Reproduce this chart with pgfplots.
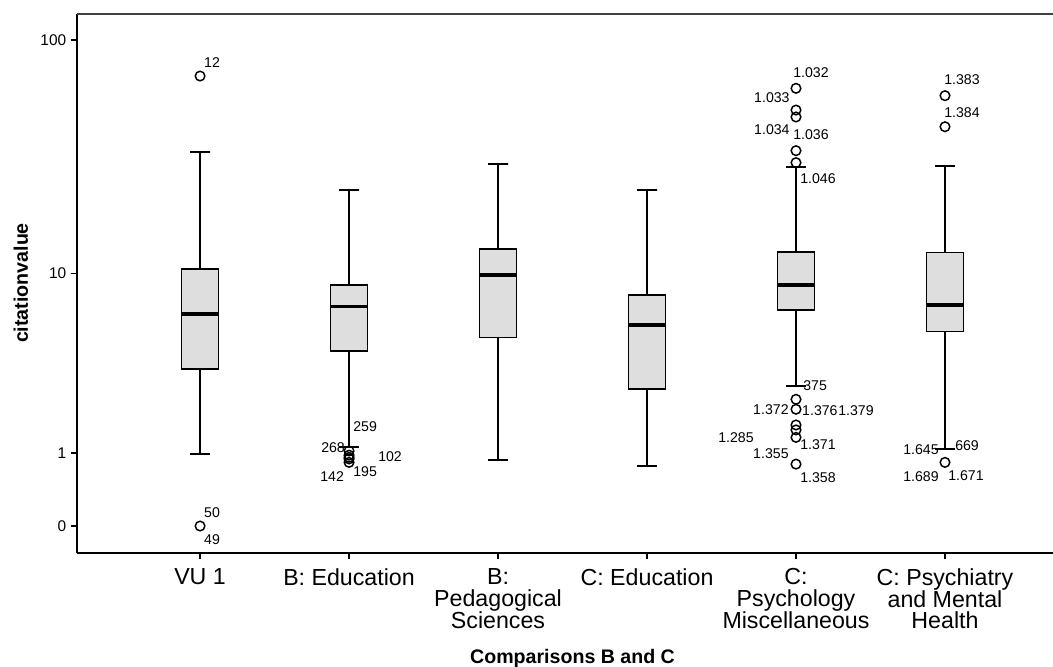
\documentclass[border=0pt]{standalone}
\usepackage{fontspec}
\setmainfont{Liberation Sans}
\usepackage{pgfplots}
\pgfplotsset{compat=1.18}
\begin{document}
\begin{tikzpicture}
\tikzset{
  boxst/.style={draw=black, fill=black!13, line width=1.2pt, line join=miter, mark=none},
  medst/.style={black, line width=2.4pt, mark=none},
  whst/.style={black, line width=1.5pt, mark=none},
  lab/.style={anchor=west, inner sep=0pt, font=\fontsize{10.6}{12}\selectfont}
}
\begin{axis}[
  name=ax,
  scale only axis,
  width=732pt, height=404.25pt,
  xmin=-0.826, xmax=5.725,
  y coord trafo/.code={\pgfmathparse{ln(#1+1)/ln(10)}},
  y coord inv trafo/.code={\pgfmathparse{exp(#1*ln(10))-1}},
  ymin=-0.226, ymax=128.2,
  axis x line*=bottom, axis y line*=left,
  x axis line style={line width=0.9pt, black},
  y axis line style={line width=1.2pt, black},
  tick align=outside,
  major tick length=4.5pt,
  tick style={black, line width=0.9pt},
  xtick={0,1,2,3,4,5},
  xticklabels={VU 1, B: Education, {B:\\Pedagogical\\Sciences}, C: Education, {C:\\Psychology\\Miscellaneous}, {C: Psychiatry\\and Mental\\Health}},
  xticklabel style={align=center, yshift=-3.5pt, font=\fontsize{17.4}{16.4}\selectfont},
  ytick={0,1,10,100},
  yticklabels={0,1,10,100},
  yticklabel style={font=\fontsize{11.6}{12}\selectfont},
  xlabel={Comparisons B and C},
  xlabel style={at={(axis description cs:0.5077,-0.1954)}, anchor=center, font=\bfseries\fontsize{14.7}{16}\selectfont},
  ylabel={citationvalue},
  ylabel style={at={(axis description cs:-0.0574,0.5009)}, anchor=center, rotate=0, font=\bfseries\fontsize{14.7}{16}\selectfont},
  clip=false,
]
% top frame line
\draw[black!75, line width=1.5pt] (rel axis cs:0,1) -- (rel axis cs:1,1);

% VU 1
\addplot[boxst] coordinates {(-0.125,3.44) (0.125,3.44) (0.125,10.45) (-0.125,10.45) (-0.125,3.44)};
\addplot[medst] coordinates {(-0.125,6.48) (0.125,6.48)};
\addplot[whst] coordinates {(-0.067,33.7) (0.067,33.7) (0,33.7) (0,10.45)};
\addplot[whst] coordinates {(0,3.44) (0,0.99) (-0.067,0.99) (0.067,0.99)};
% B: Education
\addplot[boxst] coordinates {(0.875,4.28) (1.125,4.28) (1.125,8.86) (0.875,8.86) (0.875,4.28)};
\addplot[medst] coordinates {(0.875,7.02) (1.125,7.02)};
\addplot[whst] coordinates {(0.933,23.3) (1.067,23.3) (1,23.3) (1,8.86)};
\addplot[whst] coordinates {(1,4.28) (1,1.11) (0.933,1.11) (1.067,1.11)};
% B: Pedagogical Sciences
\addplot[boxst] coordinates {(1.875,5.0) (2.125,5.0) (2.125,12.88) (1.875,12.88) (1.875,5.0)};
\addplot[medst] coordinates {(1.875,9.84) (2.125,9.84)};
\addplot[whst] coordinates {(1.933,30.0) (2.067,30.0) (2,30.0) (2,12.88)};
\addplot[whst] coordinates {(2,5.0) (2,0.88) (1.933,0.88) (2.067,0.88)};
% C: Education
\addplot[boxst] coordinates {(2.875,2.67) (3.125,2.67) (3.125,7.97) (2.875,7.97) (2.875,2.67)};
\addplot[medst] coordinates {(2.875,5.74) (3.125,5.74)};
\addplot[whst] coordinates {(2.933,23.2) (3.067,23.2) (3,23.2) (3,7.97)};
\addplot[whst] coordinates {(3,2.67) (3,0.77) (2.933,0.77) (3.067,0.77)};
% C: Psychology Miscellaneous
\addplot[boxst] coordinates {(3.875,6.78) (4.125,6.78) (4.125,12.52) (3.875,12.52) (3.875,6.78)};
\addplot[medst] coordinates {(3.875,8.86) (4.125,8.86)};
\addplot[whst] coordinates {(3.933,29.3) (4.067,29.3) (4,29.3) (4,12.52)};
\addplot[whst] coordinates {(4,6.78) (4,2.78) (3.933,2.78) (4.067,2.78)};
% C: Psychiatry and Mental Health
\addplot[boxst] coordinates {(4.875,5.33) (5.125,5.33) (5.125,12.4) (4.875,12.4) (4.875,5.33)};
\addplot[medst] coordinates {(4.875,7.15) (5.125,7.15)};
\addplot[whst] coordinates {(4.933,29.6) (5.067,29.6) (5,29.6) (5,12.4)};
\addplot[whst] coordinates {(5,5.33) (5,1.08) (4.933,1.08) (5.067,1.08)};

% outliers
\addplot[only marks, mark=o, mark size=3.6pt, mark options={line width=1.1pt, black}] coordinates {
 (0,70.7) (0,0)
 (1,1.04) (1,0.96) (1,0.92) (1,0.89) (1,0.83)
 (4,62.8) (4,50.9) (4,47.6) (4,34.3) (4,30.5)
 (4,2.33) (4,2.03) (4,1.61) (4,1.49) (4,1.32) (4,0.80)
 (5,58.5) (5,43.3) (5,0.83)
};

% case labels
\node[lab] at (rel axis cs:0.1301,0.9091) {12};
\node[lab] at (rel axis cs:0.1301,0.0748) {50};
\node[lab] at (rel axis cs:0.1301,0.0254) {49};
\node[lab] at (rel axis cs:0.2828,0.2338) {259};
\node[lab] at (rel axis cs:0.2500,0.1948) {268};
\node[lab] at (rel axis cs:0.2490,0.1416) {142};
\node[lab] at (rel axis cs:0.2828,0.1508) {195};
\node[lab] at (rel axis cs:0.3084,0.1787) {102};
\node[lab] at (rel axis cs:0.7336,0.8911) {1.032};
\node[lab] at (rel axis cs:0.6936,0.8447) {1.033};
\node[lab] at (rel axis cs:0.6936,0.7861) {1.034};
\node[lab] at (rel axis cs:0.7336,0.7755) {1.036};
\node[lab] at (rel axis cs:0.7408,0.6939) {1.046};
\node[lab] at (rel axis cs:0.7439,0.3098) {375};
\node[lab] at (rel axis cs:0.6926,0.2666) {1.372};
\node[lab] at (rel axis cs:0.7428,0.2635) {1.376};
\node[lab] at (rel axis cs:0.7797,0.2635) {1.379};
\node[lab] at (rel axis cs:0.6568,0.2147) {1.285};
\node[lab] at (rel axis cs:0.7408,0.2004) {1.371};
\node[lab] at (rel axis cs:0.6926,0.1837) {1.355};
\node[lab] at (rel axis cs:0.7408,0.1404) {1.358};
\node[lab] at (rel axis cs:0.8883,0.8776) {1.383};
\node[lab] at (rel axis cs:0.8883,0.8169) {1.384};
\node[lab] at (rel axis cs:0.8463,0.1924) {1.645};
\node[lab] at (rel axis cs:0.8996,0.1985) {669};
\node[lab] at (rel axis cs:0.8463,0.1416) {1.689};
\node[lab] at (rel axis cs:0.8924,0.1434) {1.671};
\end{axis}
\pgfresetboundingbox
\path[use as bounding box] ([xshift=-57.75pt,yshift=-85.5pt]ax.south west) rectangle ([yshift=10.5pt]ax.north east);
\end{tikzpicture}
\end{document}
